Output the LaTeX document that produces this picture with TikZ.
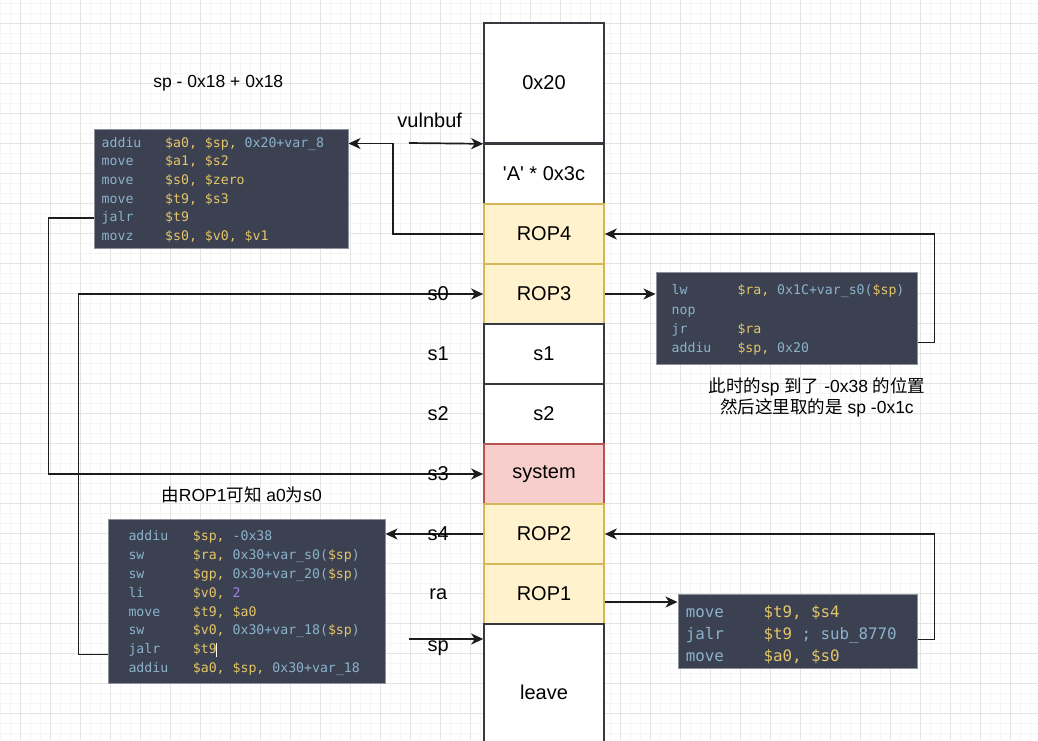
\documentclass[tikz,border=0pt]{standalone}
\usepackage{fontspec}
\setmainfont{Liberation Sans}
\setmonofont{DejaVu Sans Mono}
\newfontfamily\cjk{Noto Sans CJK SC}
\usepackage{xcolor}
\usepackage{tikz}
\usetikzlibrary{arrows.meta}
\definecolor{gridminor}{RGB}{245,245,245}
\definecolor{gridmajor}{RGB}{228,228,228}
\definecolor{cellline}{RGB}{54,57,61}
\definecolor{wireline}{RGB}{28,28,28}
\definecolor{ropfill}{RGB}{255,242,204}
\definecolor{ropline}{RGB}{214,182,86}
\definecolor{sysfill}{RGB}{248,206,204}
\definecolor{sysline}{RGB}{184,84,80}
\definecolor{asmbg}{RGB}{59,65,81}
\definecolor{asmframe}{RGB}{140,145,155}
\definecolor{asmop}{RGB}{140,178,204}
\definecolor{asmreg}{RGB}{229,198,105}
\definecolor{asmimm}{RGB}{167,128,230}
\newcommand{\areg}[1]{\textcolor{asmreg}{#1}}
\newcommand{\aimm}[1]{\textcolor{asmimm}{#1}}

\begin{document}
\begin{tikzpicture}[x=1pt,y=-1pt,
  cell/.style={draw=cellline, fill=white, line width=1.6pt, minimum width=120pt, minimum height=60pt, inner sep=0, font=\fontsize{20}{24}\selectfont},
  rop/.style={cell, draw=ropline, fill=ropfill},
  sys/.style={cell, draw=sysline, fill=sysfill},
  lbl/.style={inner sep=0, font=\fontsize{20}{24}\selectfont},
  note/.style={inner sep=0, align=center, font=\fontsize{17.5}{21}\selectfont},
  asmbox/.style={draw=asmframe, fill=asmbg, line width=1pt, inner sep=0},
  asm/.style={anchor=west, inner sep=0, text height=10pt, text depth=3pt, text=asmop, font=\ttfamily\fontsize{13.2}{16}\selectfont},
  asmbig/.style={asm, font=\ttfamily\fontsize{15.8}{19}\selectfont},
  wire/.style={draw=wireline, line width=1.7pt, -{Stealth[length=12pt,width=11pt,inset=3.5pt]}}]
\useasboundingbox (0,0) rectangle (1038,740);
\clip (0,0) rectangle (1038,740);
\fill[white] (0,0) rectangle (1038,740);
\begin{scope}[shift={(20,23)}]
\draw[gridminor, line width=0.5pt, step=10pt] (-20,-23) grid (1018,717);
\draw[gridmajor, line width=0.8pt, step=30pt] (-20,-23) grid (1018,717);
\end{scope}

% stack
\node[cell, minimum height=120pt] (frame) at (544,83) {0x20};
\node[cell] (pad) at (544,174) {\textquotesingle A\textquotesingle{} * 0x3c};
\node[rop] (rop4) at (544,234) {ROP4};
\node[rop] (rop3) at (544,294) {ROP3};
\node[cell] (s1cell) at (544,354) {s1};
\node[cell] (s2cell) at (544,414) {s2};
\node[sys] (system) at (544,474) {system};
\node[rop] (rop2) at (544,534) {ROP2};
\node[rop] (rop1) at (544,594) {ROP1};
\node[cell, minimum height=136pt] (leave) at (544,692) {leave};

% gadgets
\node[asmbox, minimum width=254pt, minimum height=119pt] (gadrop4) at (221,188.5) {};
\foreach \m/\o [count=\i] in {addiu/{\areg{\$a0, \$sp,} 0x20+var\_8}, move/{\areg{\$a1, \$s2}}, move/{\areg{\$s0, \$zero}}, move/{\areg{\$t9, \$s3}}, jalr/{\areg{\$t9}}, movz/{\areg{\$s0, \$v0, \$v1}}}{
  \node[asm] (g4m\i) at (101.5,143.5+18.68*\i-18.68) {\m};
  \node[asm] (g4o\i) at (165,143.5+18.68*\i-18.68) {\o};
}
\node[asmbox, minimum width=261pt, minimum height=92pt] (gadrop3) at (786.5,318) {};
\foreach \m/\o [count=\i] in {lw/{\areg{\$ra,} 0x1C+var\_s0(\areg{\$sp})}, nop/{}, jr/{\areg{\$ra}}, addiu/{\areg{\$sp,} 0x20}}{
  \node[asm] (g3m\i) at (671.5,291.3+19.2*\i-19.2) {\m};
  \node[asm] (g3o\i) at (737.3,291.3+19.2*\i-19.2) {\o};
}
\node[asmbox, minimum width=277pt, minimum height=164pt] (gadrop2) at (246.5,601) {};
\foreach \m/\o [count=\i] in {addiu/{\areg{\$sp,} -0x38}, sw/{\areg{\$ra,} 0x30+var\_s0(\areg{\$sp})}, sw/{\areg{\$gp,} 0x30+var\_20(\areg{\$sp})}, li/{\areg{\$v0,} \aimm{2}}, move/{\areg{\$t9, \$a0}}, sw/{\areg{\$v0,} 0x30+var\_18(\areg{\$sp})}, jalr/{\areg{\$t9}}, addiu/{\areg{\$a0, \$sp,} 0x30+var\_18}}{
  \node[asm] (g2m\i) at (128.3,537.3+18.8*\i-18.8) {\m};
  \node[asm] (g2o\i) at (192.7,537.3+18.8*\i-18.8) {\o};
}
\draw[white, line width=0.8pt] (216.8,643) -- (216.8,657);
\node[asmbox, minimum width=239pt, minimum height=74pt] (gadrop1) at (797.5,631) {};
\foreach \m/\o [count=\i] in {move/{\areg{\$t9, \$s4}}, jalr/{\areg{\$t9} ; sub\_8770}, move/{\areg{\$a0, \$s0}}}{
  \node[asmbig] (g1m\i) at (685.7,614.3+22*\i-22) {\m};
  \node[asmbig] (g1o\i) at (763.3,614.3+22*\i-22) {\o};
}

% links
\coordinate (bufstart) at (409,143);
\draw[wire] (bufstart) -- (frame.south west);
\draw[wire] (rop4.west) -- ++(-90,0) |- (gadrop4.east |- g4m1.west);
\draw[wire] ([yshift=22pt]gadrop3.south east) -- ++(17,0) |- (rop4.east);
\draw[wire] (rop3.east) -- (gadrop3.west |- rop3.east);
\draw[wire] (gadrop4.west |- g4m5.west) -- ++(-45,0) |- (system.west);
\draw[wire] ([yshift=29pt]gadrop2.south west) -- ++(-29,0) |- (rop3.west);
\draw[wire] (rop2.west) -- (gadrop2.east |- rop2.west);
\draw[wire] ([yshift=29pt]gadrop1.south east) -- ++(17,0) |- (rop2.east);
\coordinate (r1out) at ([yshift=-8pt]rop1.east);
\draw[wire] (r1out) -- (r1out -| gadrop1.west);
\coordinate (spstart) at (409,639);
\draw[wire] (spstart) -- (spstart -| leave.west);

% labels
\node[lbl] (lblbuf) at (429.7,120) {vulnbuf};
\node[lbl] (lbls0) at (438.3,294) {s0};
\node[lbl] (lbls1) at (438.3,354) {s1};
\node[lbl] (lbls2) at (438.3,414) {s2};
\node[lbl] (lbls3) at (438.3,474) {s3};
\node[lbl] (lbls4) at (438.3,534) {s4};
\node[lbl] (lblra) at (438.3,594) {ra};
\node[lbl] (lblsp) at (438.3,648) {sp};
\node[note] (noteoff) at (218.3,83.3) {sp - 0x18 + 0x18};
\node[note] (notesp) at (817,397.5) {{\cjk 此时的}sp {\cjk 到了} -0x38 {\cjk 的位置}\\{\cjk 然后这里取的是} sp -0x1c};
\node[note] (notea0) at (241.7,495) {{\cjk 由}ROP1{\cjk 可知} a0{\cjk 为}s0};
\end{tikzpicture}
\end{document}
